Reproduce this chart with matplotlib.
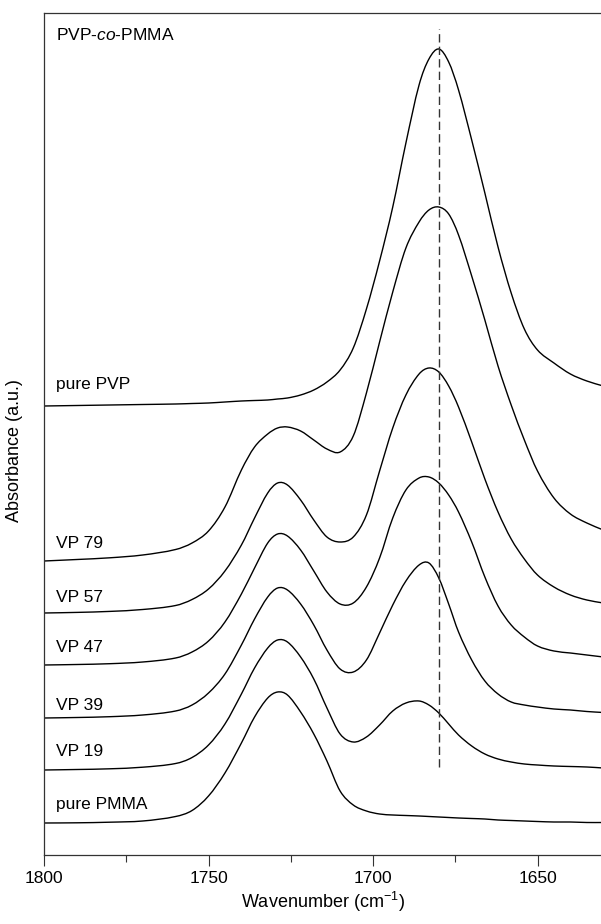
import matplotlib
matplotlib.use("Agg")
import numpy as np
import matplotlib.pyplot as plt
from matplotlib.path import Path
from matplotlib.patches import PathPatch
from matplotlib.ticker import MultipleLocator, NullLocator

plt.rcParams['font.family'] = ['Liberation Sans', 'DejaVu Sans']
plt.rcParams['mathtext.fontset'] = 'custom'
plt.rcParams['mathtext.rm'] = 'Liberation Sans'
plt.rcParams['mathtext.it'] = 'Liberation Sans:italic'

# ---------------- data: C=O stretching region, stacked spectra (a.u.) ----------------
wavenumber = [1800, 1790, 1780, 1770, 1760, 1755, 1750, 1745, 1740, 1736, 1732, 1729,
              1726, 1722, 1718, 1714, 1710, 1706, 1702, 1698, 1694, 1690, 1686, 1683,
              1680, 1677, 1674, 1670, 1666, 1662, 1658, 1654, 1650, 1645, 1640, 1635, 1630]

pure_pmma = [3.2, 3.22, 3.28, 3.4, 3.85, 4.45, 5.9, 8.2, 11.2, 13.8, 15.7, 16.3,
             16.0, 14.3, 12.1, 9.4, 6.4, 5.0, 4.4, 4.1, 4.0, 3.95, 3.9, 3.85,
             3.8, 3.75, 3.7, 3.65, 3.6, 3.5, 3.45, 3.4, 3.35, 3.3, 3.3, 3.25, 3.25]

vp19 = [8.5, 8.55, 8.62, 8.78, 9.15, 9.75, 11.0, 13.1, 16.1, 18.7, 20.7, 21.5,
        21.3, 19.8, 17.6, 14.7, 12.1, 11.3, 11.8, 13.0, 14.4, 15.2, 15.4, 15.0,
        14.2, 13.1, 12.0, 10.9, 10.1, 9.6, 9.3, 9.1, 9.0, 8.9, 8.85, 8.8, 8.7]

vp39 = [13.7, 13.75, 13.83, 14.0, 14.4, 15.0, 16.2, 18.1, 21.0, 23.6, 25.8, 26.7,
        26.5, 25.1, 23.0, 20.5, 18.6, 18.3, 19.5, 22.2, 25.0, 27.4, 29.0, 29.2,
        27.7, 25.1, 22.3, 19.5, 17.4, 16.1, 15.3, 15.0, 14.8, 14.6, 14.5, 14.35, 14.25]

vp47 = [19.0, 19.05, 19.13, 19.3, 19.7, 20.3, 21.4, 23.3, 26.1, 28.7, 31.2, 32.1,
        31.9, 30.5, 28.4, 26.3, 25.1, 25.2, 26.8, 29.7, 33.7, 36.5, 37.7, 37.8,
        37.2, 36.0, 34.3, 31.3, 27.8, 24.9, 23.0, 21.8, 20.9, 20.4, 20.2, 20.0, 19.8]

vp57 = [24.2, 24.26, 24.36, 24.55, 24.95, 25.55, 26.6, 28.4, 31.0, 33.7, 36.2, 37.2,
        37.0, 35.5, 33.5, 31.8, 31.3, 31.8, 34.0, 38.4, 42.7, 46.0, 48.1, 48.7,
        48.3, 46.9, 44.8, 41.3, 37.6, 34.3, 31.6, 29.6, 28.0, 26.8, 26.0, 25.5, 25.2]

vp79 = [29.4, 29.55, 29.72, 30.0, 30.55, 31.2, 32.4, 34.8, 38.5, 40.8, 42.1, 42.7,
        42.8, 42.4, 41.5, 40.6, 40.3, 41.9, 46.2, 51.3, 56.3, 60.7, 63.3, 64.5,
        64.8, 64.1, 62.0, 57.9, 53.5, 48.9, 45.0, 41.5, 38.4, 35.7, 34.1, 33.2, 32.5]

pure_pvp = [44.9, 44.95, 45.0, 45.05, 45.1, 45.15, 45.2, 45.3, 45.4, 45.45, 45.5, 45.6,
            45.7, 46.0, 46.5, 47.3, 48.5, 50.7, 54.6, 59.4, 64.8, 71.2, 77.0, 79.6,
            80.6, 79.3, 76.5, 71.5, 66.2, 60.8, 56.2, 52.6, 50.5, 49.2, 48.1, 47.4, 46.9]

# sample names and where their labels sit (y in a.u.)
spectra = [pure_pmma, vp19, vp39, vp47, vp57, vp79, pure_pvp]
names = ['pure PMMA', 'VP 19', 'VP 39', 'VP 47', 'VP 57', 'VP 79', 'pure PVP']
label_y = [5.1, 10.3, 15.0, 20.8, 25.8, 31.2, 47.0]

# PVP carbonyl band position
pvp_band = 1680
band_line = [8.8, 82.6]


def smooth_path(x, y):
    """Cubic Hermite curve through the points (slopes from neighbouring points)."""
    x = np.asarray(x, float)
    y = np.asarray(y, float)
    m = np.empty_like(y)
    m[1:-1] = (y[2:] - y[:-2]) / (x[2:] - x[:-2])
    m[0] = (y[1] - y[0]) / (x[1] - x[0])
    m[-1] = (y[-1] - y[-2]) / (x[-1] - x[-2])
    verts = [(x[0], y[0])]
    codes = [Path.MOVETO]
    for i in range(len(x) - 1):
        h = x[i + 1] - x[i]
        verts += [(x[i] + h / 3, y[i] + m[i] * h / 3),
                  (x[i + 1] - h / 3, y[i + 1] - m[i + 1] * h / 3),
                  (x[i + 1], y[i + 1])]
        codes += [Path.CURVE4] * 3
    return Path(verts, codes)


# ---------------- plot ----------------
fig = plt.figure(figsize=(6.01, 9.24), dpi=100)
ax = fig.add_axes([44 / 601, 69 / 924, 557 / 601, 842 / 924])

for s in spectra:
    ax.add_patch(PathPatch(smooth_path(wavenumber, s), facecolor='none',
                           edgecolor='black', lw=1.0))

ax.plot([pvp_band, pvp_band], band_line, color='#333333', lw=1.0,
        linestyle=(0, (6, 3)))

for name, yy in zip(names, label_y):
    ax.text(1796.4, yy, name, fontsize=12.5, ha='left', va='center')
ax.text(1796.4, 82.0, 'PVP-$\\it{co}$-PMMA', fontsize=12.5, ha='left', va='center')

ax.set_xlim(1800, 1630.7)
ax.set_ylim(0, 84.2)

ax.xaxis.set_major_locator(MultipleLocator(50))
ax.xaxis.set_minor_locator(MultipleLocator(25))
ax.yaxis.set_major_locator(NullLocator())
ax.tick_params(axis='x', which='major', direction='out', length=8, width=0.8,
               labelsize=12.5, color='#333333')
ax.tick_params(axis='x', which='minor', direction='out', length=5, width=0.8,
               color='#333333')

for side in ['left', 'top', 'bottom']:
    ax.spines[side].set_linewidth(0.9)
    ax.spines[side].set_color('#333333')
ax.spines['right'].set_visible(False)

ax.set_xlabel('Wavenumber (cm$^{-1}$)', fontsize=13, labelpad=3)
ax.set_ylabel('Absorbance (a.u.)', fontsize=13)
ax.yaxis.set_label_coords(-0.038, 0.48)

fig.savefig('out.png', dpi=100)
